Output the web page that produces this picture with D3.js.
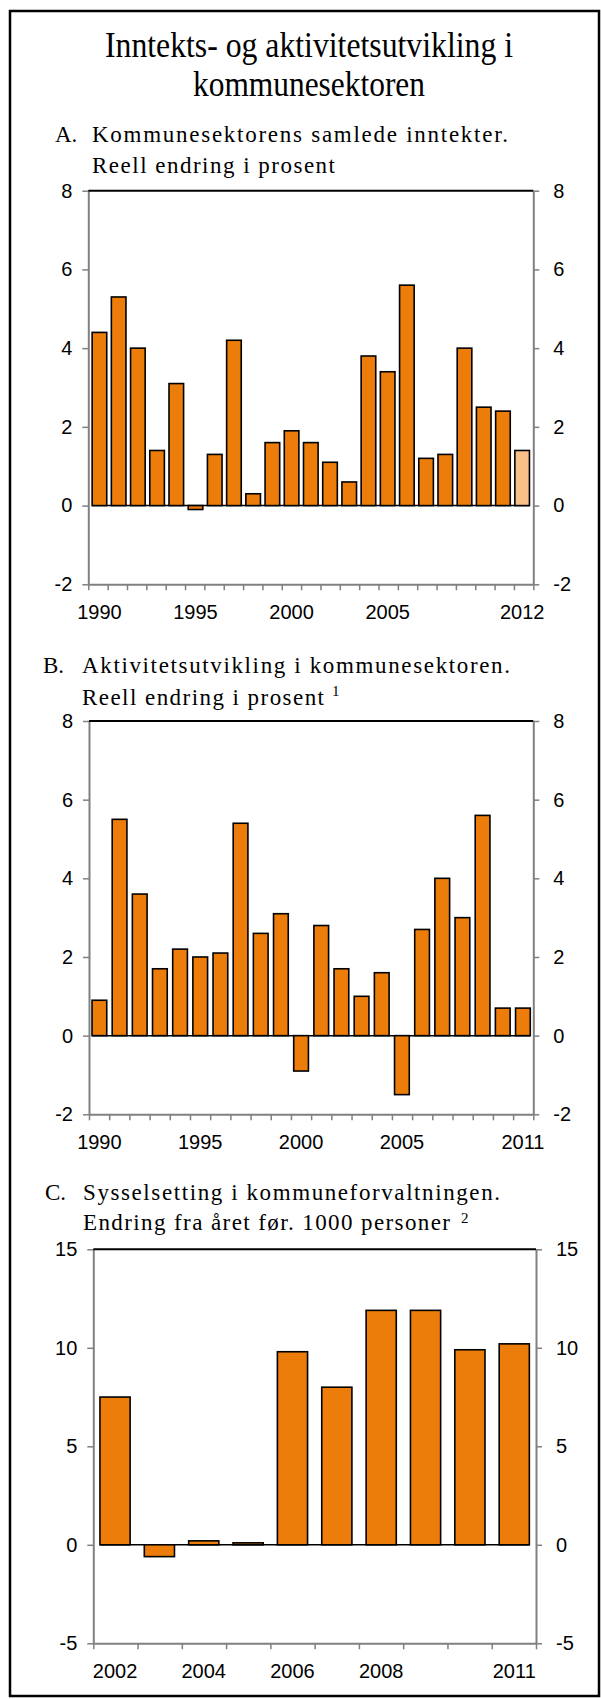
<!DOCTYPE html>
<html>
<head>
<meta charset="utf-8">
<script src="https://cdn.jsdelivr.net/npm/d3@7"></script>
<style>
  body { margin: 0; background: #fff; }
</style>
</head>
<body>
<script>
// --- data ---
const yearsA = ["1990","1991","1992","1993","1994","1995","1996","1997","1998","1999","2000",
  "2001","2002","2003","2004","2005","2006","2007","2008","2009","2010","2011","2012"];
const valuesA = [4.4, 5.3, 4.0, 1.4, 3.1, -0.1, 1.3, 4.2, 0.3, 1.6, 1.9,
  1.6, 1.1, 0.6, 3.8, 3.4, 5.6, 1.2, 1.3, 4.0, 2.5, 2.4, 1.4];
const projectedA = ["2012"];
const labelsA = ["1990","1995","2000","2005","2012"];

const yearsB = ["1990","1991","1992","1993","1994","1995","1996","1997","1998","1999","2000",
  "2001","2002","2003","2004","2005","2006","2007","2008","2009","2010","2011"];
const valuesB = [0.9, 5.5, 3.6, 1.7, 2.2, 2.0, 2.1, 5.4, 2.6, 3.1, -0.9,
  2.8, 1.7, 1.0, 1.6, -1.5, 2.7, 4.0, 3.0, 5.6, 0.7, 0.7];
const labelsB = ["1990","1995","2000","2005","2011"];

const yearsC = ["2002","2003","2004","2005","2006","2007","2008","2009","2010","2011"];
const valuesC = [7.5, -0.6, 0.2, 0.1, 9.8, 8.0, 11.9, 11.9, 9.9, 10.2];
const labelsC = ["2002","2004","2006","2008","2011"];

const ticksPct = [-2, 0, 2, 4, 6, 8];
const ticksC = [-5, 0, 5, 10, 15];

const W = 601, H = 1699;
const orange = "#ED7D0A", lightOrange = "#F9C08A", grey = "#808080";
const sans = "'Liberation Sans', Arial, sans-serif";
const serif = "'Liberation Serif', 'Times New Roman', serif";

const svg = d3.select("body").append("svg")
    .attr("width", W)
    .attr("height", H);

// outer frame
svg.append("rect")
    .attr("x", 10).attr("y", 11)
    .attr("width", 589).attr("height", 1685)
    .attr("fill", "none")
    .attr("stroke", "#000")
    .attr("stroke-width", 2.5);

// helper for serif text lines
function serifText(x, y, str, size, len, anchor, adjust) {
    const t = svg.append("text")
        .attr("x", x).attr("y", y)
        .attr("font-family", serif)
        .attr("font-size", size)
        .attr("text-anchor", anchor || "start")
        .text(str);
    if (len) t.attr("textLength", len).attr("lengthAdjust", adjust || "spacing");
    return t;
}

// title
serifText(309, 57, "Inntekts- og aktivitetsutvikling i", 35, 408, "middle", "spacingAndGlyphs");
serifText(309, 96, "kommunesektoren", 35, 232, "middle", "spacingAndGlyphs");

// panel subtitles
serifText(55, 141.5, "A.", 23);
serifText(92, 141.5, "Kommunesektorens samlede inntekter.", 23, 416);
serifText(92, 173, "Reell endring i prosent", 23, 243);

serifText(43, 673, "B.", 23);
serifText(82, 673, "Aktivitetsutvikling i kommunesektoren.", 23, 428);
serifText(82, 705, "Reell endring i prosent", 23, 242);
serifText(332, 696, "1", 15);

serifText(45, 1200, "C.", 23);
serifText(83, 1200, "Sysselsetting i kommuneforvaltningen.", 23, 417);
serifText(83, 1230, "Endring fra året før. 1000 personer", 23, 367);
serifText(461, 1223, "2", 15);

// one bar panel
function drawPanel(p) {
    const g = svg.append("g");

    const x = d3.scaleBand()
        .domain(p.cats)
        .range([p.left, p.right])
        .paddingInner(p.pi)
        .paddingOuter(p.po);

    const y = d3.scaleLinear()
        .domain([p.ticks[0], p.ticks[p.ticks.length - 1]])
        .range([p.bottom, p.top]);

    // category tick marks split the axis evenly
    const xi = d3.scaleLinear().domain([0, p.cats.length]).range([p.left, p.right]);

    // zero line
    g.append("line")
        .attr("x1", x(p.cats[0]))
        .attr("x2", x(p.cats[p.cats.length - 1]) + x.bandwidth())
        .attr("y1", y(0)).attr("y2", y(0))
        .attr("stroke", "#000")
        .attr("stroke-width", 1.5);

    // bars
    g.selectAll("rect.bar")
        .data(p.vals)
        .enter().append("rect")
        .attr("class", "bar")
        .attr("x", (d, i) => x(p.cats[i]))
        .attr("width", x.bandwidth())
        .attr("y", d => y(Math.max(0, d)))
        .attr("height", d => Math.abs(y(d) - y(0)))
        .attr("fill", (d, i) => (p.projected || []).includes(p.cats[i]) ? lightOrange : orange)
        .attr("stroke", "#000")
        .attr("stroke-width", 1.6);

    const fmt = d => String(d);  // plain hyphen minus, like the original

    // left axis
    const la = g.append("g")
        .attr("transform", "translate(" + p.left + ",0)")
        .call(d3.axisLeft(y).tickValues(p.ticks).tickFormat(fmt).tickSize(6).tickSizeOuter(0).tickPadding(10));
    // right axis
    const ra = g.append("g")
        .attr("transform", "translate(" + p.right + ",0)")
        .call(d3.axisRight(y).tickValues(p.ticks).tickFormat(fmt).tickSize(6).tickSizeOuter(0).tickPadding(14));
    // bottom axis (tick marks only)
    const ba = g.append("g")
        .attr("transform", "translate(0," + p.bottom + ")")
        .call(d3.axisBottom(xi).tickValues(d3.range(p.cats.length + 1)).tickFormat("").tickSize(6).tickSizeOuter(0));

    [la, ra, ba].forEach(a => {
        a.select(".domain").attr("stroke", grey).attr("stroke-width", 2);
        a.selectAll(".tick line").attr("stroke", grey).attr("stroke-width", 1.5);
        a.selectAll(".tick text")
            .attr("font-family", sans)
            .attr("font-size", 20)
            .attr("fill", "#000");
    });

    // top border of plot area
    g.append("line")
        .attr("x1", p.left).attr("x2", p.right)
        .attr("y1", p.top).attr("y2", p.top)
        .attr("stroke", "#000")
        .attr("stroke-width", 2);

    // category labels
    g.selectAll("text.xlab")
        .data(p.labels)
        .enter().append("text")
        .attr("class", "xlab")
        .attr("x", d => x(d) + x.bandwidth() / 2)
        .attr("y", p.bottom + 35)
        .attr("text-anchor", "middle")
        .attr("font-family", sans)
        .attr("font-size", 20)
        .text(d => d);
}

drawPanel({cats: yearsA, vals: valuesA, projected: projectedA, labels: labelsA, ticks: ticksPct,
    left: 88.3, right: 533.3, top: 190.7, bottom: 584.3, pi: 0.24, po: 0.2});
drawPanel({cats: yearsB, vals: valuesB, labels: labelsB, ticks: ticksPct,
    left: 89, right: 533.3, top: 721, bottom: 1114.3, pi: 0.27, po: 0.15});
drawPanel({cats: yearsC, vals: valuesC, labels: labelsC, ticks: ticksC,
    left: 93.3, right: 536, top: 1249.3, bottom: 1643.3, pi: 0.32, po: 0.15});
</script>
</body>
</html>
